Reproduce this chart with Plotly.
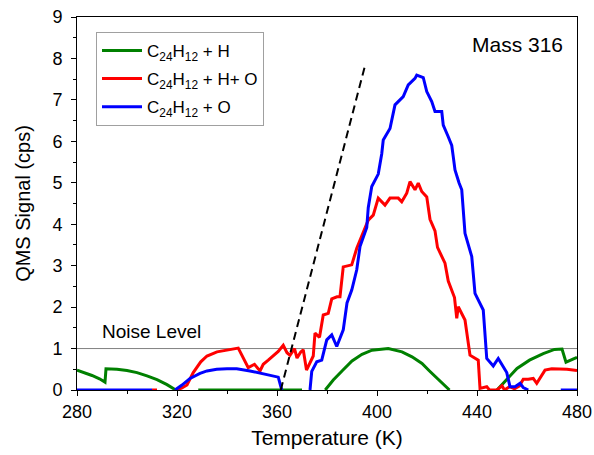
import plotly.graph_objects as go

# ---- data ----
green_T = [280, 283, 286, 289, 291.2, 291.6, 296, 300, 304, 308, 312, 316, 319.5, None,
           328.5, 370, None,
           379.3, 382.5, 386, 390, 394, 398, 404.5, 410, 414, 418, 421, 425, 429, None,
           448, 453, 456, 461, 466.5, 471, 474, 475.6, 480]
green_V = [0.48, 0.42, 0.35, 0.27, 0.19, 0.51, 0.50, 0.47, 0.42, 0.34, 0.25, 0.13, 0.0, None,
           0.0, 0.0, None,
           0.0, 0.24, 0.46, 0.70, 0.86, 0.96, 1.0, 0.92, 0.80, 0.64, 0.46, 0.22, 0.0, None,
           0.0, 0.32, 0.52, 0.72, 0.88, 0.98, 0.99, 0.67, 0.79]

red_T = [310, 312, None,
         319.9, 322, 324, 326.5, 329.5, 332, 336, 340, 344.5, 348.5, 351, 353.2, 354.5, 356.5,
         358.5, 360.5, 362.5, 364, 365.2, 367, 368, 369.5, 370.5, 371.8, 374.5, 375.2, 377,
         378.5, 380.5, 381.9, 384, 385.2, 386.5, 389.9, 391.9, 394.5, 396.5, 398.5, 400.5,
         403.2, 405.2, 408.5, 409.9, 411.9, 413.2, 415.2, 416.5, 417.9, 419.9, 421.2, 423.2,
         424.2, 427.2, 428.5, 431, 431.9, 432.5, 435.2, 437.2, 440.5, 441.2, 443.9, 445, 448,
         450, 451, 453, 455, 457, 458.5, 460.5, 462.5, 463.9, 467.2, 469.9, 476, 480]
red_V = [0.0, 0.0, None,
         0.0, 0.05, 0.12, 0.42, 0.68, 0.82, 0.92, 0.97, 1.01, 0.54, 0.62, 0.46, 0.62, 0.72,
         0.82, 0.93, 1.08, 0.90, 0.84, 1.0, 0.77, 0.92, 0.97, 0.48, 0.82, 1.37, 1.27,
         1.81, 1.85, 2.20, 2.25, 2.25, 2.97, 3.02, 3.42, 3.78, 4.10, 4.22, 4.63,
         4.46, 4.63, 4.63, 4.54, 4.75, 5.03, 4.83, 4.99, 4.79, 4.66, 4.12, 3.84,
         3.44, 3.06, 2.63, 2.23, 1.73, 2.01, 1.69, 0.84, 0.72, 0.04, 0.08, 0.0, 0.0,
         0.10, 0.0, 0.08, 0.03, 0.10, 0.26, 0.26, 0.28, 0.16, 0.48, 0.51, 0.50, 0.47]

blue_T = [280, 310, None,
          319.2, 322, 325.2, 329.2, 332, 335.9, 340, 343.9, 349.2, 352, 355.9, 360.5, 361.9, None,
          373.2, 373.9, 375.9, 377.9, 379.9, 381.9, 383.9, 386.5, 388, 389.9, 391.9, 393.2,
          395.9, 396.5, 397.9, 400.5, 401.9, 402.5, 405.2, 407.2, 410.5, 412.5, 415.2, 415.9,
          418.5, 419.9, 421.9, 423.2, 425.9, 426.5, 428.5, 429.9, 430.5, 431.2, 432.8, 433.9,
          435.2, 437.9, 439.2, 442.5, 443.9, 446.5, 448.5, 451.9, 453.2, 455.2, 457.2, 458.5,
          460.5, None, 473.5, 480]
blue_V = [0.0, 0.0, None,
          0.0, 0.12, 0.28, 0.40, 0.46, 0.50, 0.51, 0.51, 0.46, 0.42, 0.36, 0.31, 0.0, None,
          0.0, 0.45, 0.68, 0.72, 1.21, 1.33, 1.05, 1.45, 2.10, 2.41, 2.90, 3.46,
          3.92, 4.40, 4.91, 5.21, 5.70, 6.03, 6.31, 6.88, 7.08, 7.36, 7.52, 7.60,
          7.54, 7.20, 6.96, 6.72, 6.72, 6.39, 6.11, 5.90, 5.63, 5.31, 5.00, 4.83,
          3.78, 3.22, 2.33, 1.93, 0.76, 0.58, 0.76, 0.42, 0.08, 0.08, 0.16, 0.06,
          0.0, None, 0.0, 0.0]

dash_T = [361.5, 395.3]
dash_V = [0.0, 7.85]

noise_level = 1.0
x_ticks = [280, 320, 360, 400, 440, 480]
y_ticks = [0, 1, 2, 3, 4, 5, 6, 7, 8, 9]

FONT = "Liberation Sans, Arial, sans-serif"

fig = go.Figure()
fig.add_trace(go.Scatter(x=green_T, y=green_V, mode="lines", name="C<sub>24</sub>H<sub>12</sub> + H",
                         line=dict(color="#008000", width=3), legendgroup="g", connectgaps=False))
fig.add_trace(go.Scatter(x=red_T, y=red_V, mode="lines", name="C<sub>24</sub>H<sub>12</sub> + H+ O",
                         line=dict(color="#ff0000", width=3), legendgroup="r", connectgaps=False))
fig.add_trace(go.Scatter(x=blue_T, y=blue_V, mode="lines", name="C<sub>24</sub>H<sub>12</sub> + O",
                         line=dict(color="#0000ff", width=3), legendgroup="b", connectgaps=False))
fig.add_trace(go.Scatter(x=dash_T, y=dash_V, mode="lines", showlegend=False,
                         line=dict(color="black", width=2, dash="8px,5px")))

fig.add_shape(type="line", xref="paper", x0=0, x1=1, yref="y", y0=noise_level, y1=noise_level,
              line=dict(color="#808080", width=1), layer="below")

fig.add_annotation(x=289.9, y=1.41, xref="x", yref="y", text="Noise Level", showarrow=False,
                   xanchor="left", yanchor="middle", xshift=-2,
                   font=dict(family=FONT, size=19, color="black"))
fig.add_annotation(x=0.972, y=8.33, xref="paper", yref="y", text="Mass 316", showarrow=False,
                   xanchor="right", yanchor="middle", xshift=2,
                   font=dict(family=FONT, size=21, color="black"))

axis_common = dict(showline=True, linecolor="black", linewidth=1, mirror=True, showgrid=False,
                   zeroline=False, ticks="outside", tickcolor="black", ticklen=5, tickwidth=1,
                   automargin=False,
                   tickfont=dict(family=FONT, size=18, color="black"))

fig.update_xaxes(range=[280, 480], tickvals=x_ticks, ticktext=[str(v) for v in x_ticks],
                 minor=dict(dtick=20, ticks="outside", ticklen=3, tickcolor="black", tick0=280),
                 title=dict(text="Temperature (K)", font=dict(family=FONT, size=21, color="black"), standoff=9),
                 **axis_common)
fig.update_yaxes(range=[0, 9], tickvals=y_ticks, ticktext=[str(v) for v in y_ticks],
                 minor=dict(dtick=0.5, ticks="outside", ticklen=3, tickcolor="black", tick0=0),
                 ticklabelstandoff=5,
                 title=dict(text="QMS Signal (cps)", font=dict(family=FONT, size=20, color="black"), standoff=16),
                 **axis_common)

fig.update_layout(
    width=594, height=455,
    margin=dict(l=77, r=17, t=17, b=65),
    plot_bgcolor="white", paper_bgcolor="white",
    font=dict(family=FONT, color="black"),
    legend=dict(x=0.038, y=0.96, xanchor="left", yanchor="top",
                bordercolor="#a0a0a0", borderwidth=1, bgcolor="white",
                font=dict(family=FONT, size=17, color="black"),
                tracegroupgap=3, itemwidth=40),
)

fig.write_html("out.html")
